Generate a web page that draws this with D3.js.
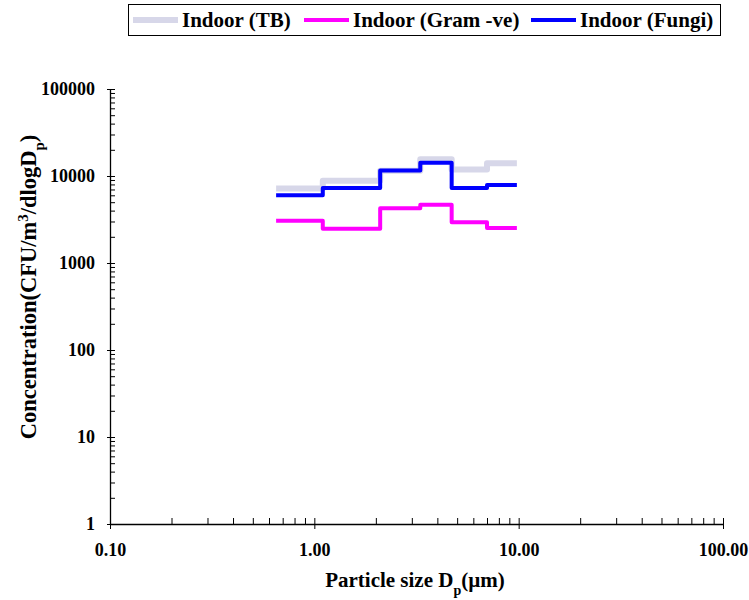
<!DOCTYPE html>
<html>
<head>
<meta charset="utf-8">
<script src="https://cdn.jsdelivr.net/npm/d3@7"></script>
<style>
  body { margin: 0; background: #fff; }
  text { font-family: "Liberation Serif", "Times New Roman", serif; font-weight: bold; fill: #000; }
</style>
</head>
<body>
<svg width="749" height="600"></svg>
<script>
// stage boundaries (um) and concentrations per stage
const edges = [0.65, 1.1, 2.1, 3.3, 4.7, 7.0, 9.8];
const tb = [7200, 8800, 11500, 15600, 11900, 14000];
const gram = [3050, 2480, 4250, 4680, 2950, 2530];
const fungi = [6000, 7300, 11600, 14200, 7300, 7900];

const seriesNames = ['Indoor (TB)', 'Indoor (Gram -ve)', 'Indoor (Fungi)'];
const seriesColors = ['#d7d7e9', '#ff00ff', '#0000ff'];
const seriesWidths = [6, 4, 4];

const xTicks = [0.1, 1, 10, 100];
const yTicks = [1, 10, 100, 1000, 10000, 100000];

const svg = d3.select('svg');

const x = d3.scaleLog().domain([0.1, 100]).range([110, 723]);
const y = d3.scaleLog().domain([1, 100000]).range([524, 89]);

// minor ticks
const xMinor = [];
for (let d = 0.1; d < 100; d *= 10) for (let k = 2; k <= 9; k++) xMinor.push(d * k);
const yMinor = [];
for (let d = 1; d < 100000; d *= 10) for (let k = 2; k <= 9; k++) yMinor.push(d * k);

const axes = svg.append('g');

// x axis
axes.append('g')
  .attr('transform', `translate(0,${y(1)})`)
  .call(d3.axisTop(x).tickValues(xMinor).tickSize(6).tickFormat(''))
  .call(g => g.select('.domain').remove());
axes.append('g')
  .attr('transform', `translate(0,${y(1)})`)
  .call(d3.axisBottom(x).tickValues(xTicks).tickSizeInner(5).tickSizeOuter(0).tickFormat(d3.format('.2f')))
  .call(g => g.selectAll('.tick').append('line').attr('y2', -6).attr('stroke', '#000'))
  .call(g => g.selectAll('text').attr('dy', 0).attr('y', 32).style('font-size', '18px'));

// y axis
axes.append('g')
  .attr('transform', `translate(${x(0.1)},0)`)
  .call(d3.axisRight(y).tickValues(yMinor).tickSize(5).tickFormat(''))
  .call(g => g.select('.domain').remove());
axes.append('g')
  .attr('transform', `translate(${x(0.1)},0)`)
  .call(d3.axisLeft(y).tickValues(yTicks).tickSizeInner(3).tickSizeOuter(0).tickFormat(d3.format('d')))
  .call(g => g.selectAll('.tick').append('line').attr('x2', 5).attr('stroke', '#000'))
  .call(g => g.selectAll('text').attr('x', -15).style('font-size', '18px'));

axes.selectAll('.domain').attr('stroke', '#000').attr('stroke-width', 1.3);
axes.selectAll('.tick line').attr('stroke', '#000');

// step lines
const line = d3.line()
  .x(d => x(d[0]))
  .y(d => y(d[1]))
  .curve(d3.curveStepAfter);

[tb, gram, fungi].forEach((vals, i) => {
  const pts = edges.map((e, j) => [e, vals[Math.min(j, vals.length - 1)]]);
  svg.append('path')
    .datum(pts)
    .attr('d', line)
    .attr('fill', 'none')
    .attr('stroke', seriesColors[i])
    .attr('stroke-width', seriesWidths[i])
    .attr('stroke-linejoin', 'round');
});

// axis titles
svg.append('text')
  .attr('x', 415).attr('y', 587)
  .attr('text-anchor', 'middle')
  .style('font-size', '21px')
  .html('Particle size D<tspan baseline-shift="sub" font-size="14px">p</tspan>(µm)');

svg.append('text')
  .attr('transform', 'translate(36,287) rotate(-90)')
  .attr('text-anchor', 'middle')
  .style('font-size', '22.5px')
  .html('Concentration(CFU/m<tspan baseline-shift="super" font-size="15px">3</tspan>/dlogD<tspan baseline-shift="sub" font-size="15px">p</tspan>)');

// legend
const legend = svg.append('g');
legend.append('rect')
  .attr('x', 128.5).attr('y', 4.5).attr('width', 592).attr('height', 31)
  .attr('fill', '#fff').attr('stroke', '#000').attr('stroke-width', 1);
const legX = [133, 304, 531];
seriesNames.forEach((name, i) => {
  legend.append('line')
    .attr('x1', legX[i]).attr('x2', legX[i] + 45)
    .attr('y1', 20).attr('y2', 20)
    .attr('stroke', seriesColors[i]).attr('stroke-width', seriesWidths[i]);
  legend.append('text')
    .attr('x', legX[i] + 49).attr('y', 27)
    .style('font-size', '21px')
    .text(name);
});
</script>
</body>
</html>
